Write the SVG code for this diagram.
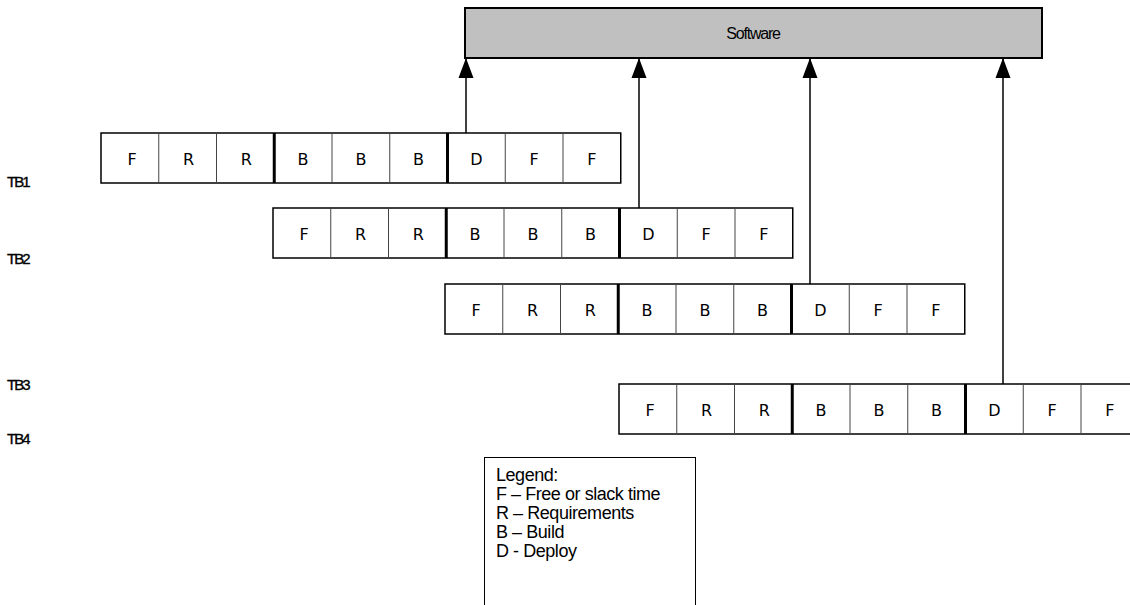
<svg xmlns="http://www.w3.org/2000/svg" width="1130" height="605" viewBox="0 0 1130 605">
<style>
.bg{fill:#ffffff}
.sw{fill:#c0c0c0;stroke:#000;stroke-width:2}
.swt{font-family:"Liberation Sans",Arial,sans-serif;font-size:16px;letter-spacing:-1.2px;fill:#000;text-anchor:middle}
.row{fill:#fff;stroke:#000;stroke-width:1.5}
.div{stroke:#444;stroke-width:1}
.thick{stroke:#000;stroke-width:3}
.cell{font-family:"DejaVu Sans",Verdana,sans-serif;font-size:16px;fill:#000;text-anchor:middle}
.tb{font-family:"Liberation Sans",Arial,sans-serif;font-size:15px;letter-spacing:-1.9px;fill:#000;stroke:#000;stroke-width:0.35}
.conn{stroke:#000;stroke-width:1.5;fill:none;marker-end:url(#ah)}
.leg{fill:#fff;stroke:#000;stroke-width:1}
.legt{font-family:"Liberation Sans",Arial,sans-serif;font-size:18px;letter-spacing:-0.45px;fill:#000}
</style>
<defs>
<marker id="ah" markerUnits="userSpaceOnUse" markerWidth="20" markerHeight="16" refX="20" refY="8" orient="auto">
<path d="M0,0.5 L20,8 L0,15.5 z" fill="#000"/>
</marker>
<g id="rowtpl">
<rect class="row" x="0" y="0" width="519.75" height="50"/>
<line class="div" x1="57.75" y1="0" x2="57.75" y2="50"/>
<line class="div" x1="115.5" y1="0" x2="115.5" y2="50"/>
<line class="thick" x1="173.25" y1="0" x2="173.25" y2="50"/>
<line class="div" x1="231" y1="0" x2="231" y2="50"/>
<line class="div" x1="288.75" y1="0" x2="288.75" y2="50"/>
<line class="thick" x1="346.5" y1="0" x2="346.5" y2="50"/>
<line class="div" x1="404.25" y1="0" x2="404.25" y2="50"/>
<line class="div" x1="462" y1="0" x2="462" y2="50"/>
<text class="cell" x="31" y="32">F</text>
<text class="cell" x="87.6" y="32">R</text>
<text class="cell" x="145.4" y="32">R</text>
<text class="cell" x="202.1" y="32">B</text>
<text class="cell" x="259.9" y="32">B</text>
<text class="cell" x="317.6" y="32">B</text>
<text class="cell" x="375.4" y="32">D</text>
<text class="cell" x="433.1" y="32">F</text>
<text class="cell" x="490.9" y="32">F</text>
</g>
</defs>
<rect class="bg" x="0" y="0" width="1130" height="605"/>
<g id="software">
<rect class="sw" x="465" y="8" width="577" height="50"/>
<text class="swt" x="753" y="39">Software</text>
</g>
<g id="tb1"><use href="#rowtpl" x="101" y="133"/></g>
<g id="tb2"><use href="#rowtpl" x="273" y="208"/></g>
<g id="tb3"><use href="#rowtpl" x="445" y="284"/></g>
<g id="tb4"><use href="#rowtpl" x="619" y="384"/></g>
<g id="labels">
<text class="tb" x="7" y="187">TB1</text>
<text class="tb" x="7" y="264">TB2</text>
<text class="tb" x="7" y="390">TB3</text>
<text class="tb" x="7" y="444">TB4</text>
</g>
<g id="connectors">
<line class="conn" x1="466" y1="133" x2="466" y2="58"/>
<line class="conn" x1="639" y1="208" x2="639" y2="58"/>
<line class="conn" x1="810" y1="284" x2="810" y2="58"/>
<line class="conn" x1="1003" y1="384" x2="1003" y2="58"/>
</g>
<g id="legend">
<rect class="leg" x="484.5" y="457.5" width="211" height="170"/>
<text class="legt" x="496" y="481">Legend:</text>
<text class="legt" x="496" y="500">F – Free or slack time</text>
<text class="legt" x="496" y="519">R – Requirements</text>
<text class="legt" x="496" y="538">B – Build</text>
<text class="legt" x="496" y="557">D - Deploy</text>
</g>
</svg>
